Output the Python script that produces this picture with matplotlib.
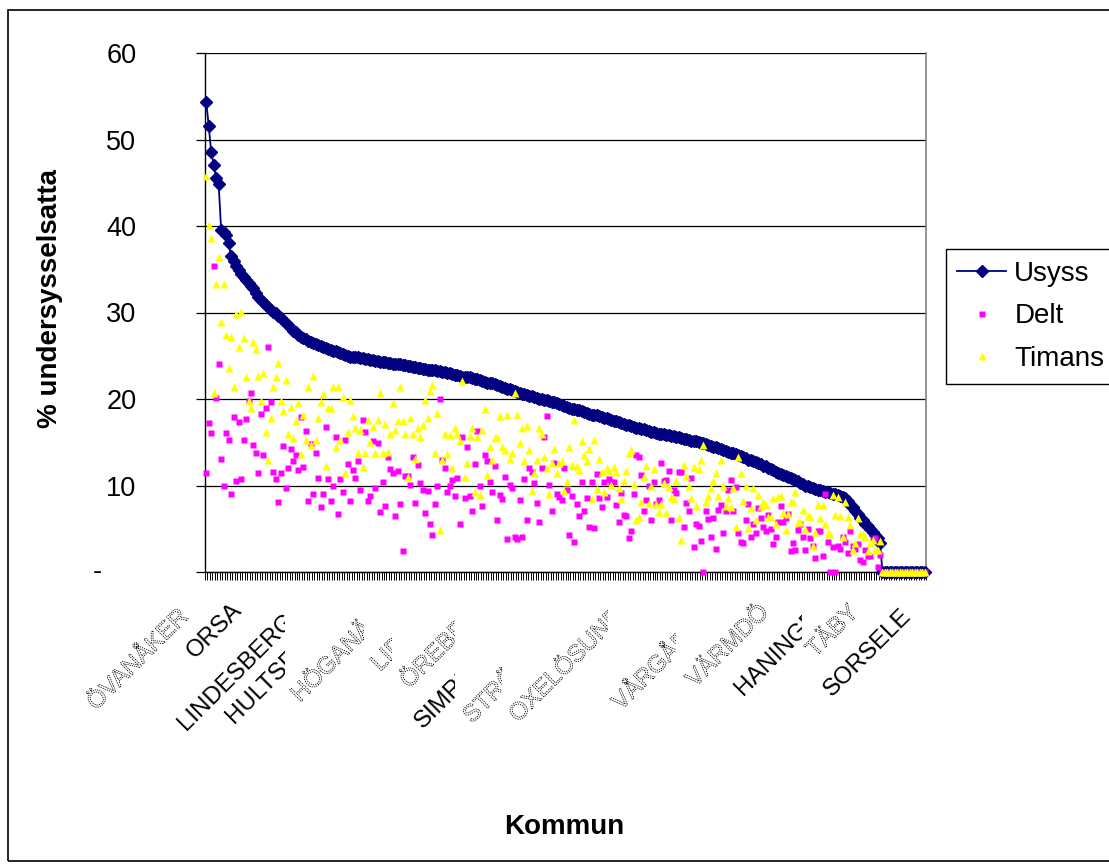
import numpy as np
import matplotlib
matplotlib.use("Agg")
import matplotlib.pyplot as plt
import matplotlib.patheffects as pe
from matplotlib.transforms import Bbox
from matplotlib.patches import Rectangle

plt.rcParams['font.family'] = ['Liberation Sans', 'DejaVu Sans']

# ---------------- data ----------------
usyss = [
    54.3, 51.6, 48.5, 47.1, 45.5, 44.8, 39.5, 39.3, 39.0, 38.0, 36.5,
    36.0, 35.4, 34.9, 34.4, 34.1, 33.7, 33.4, 33.1, 32.8, 32.3, 31.8, 31.5, 31.2, 30.9, 30.6, 30.3,
    30.1, 29.9, 29.6, 29.4, 29.1, 28.8, 28.5, 28.2, 27.9, 27.7, 27.4, 27.2,
    27.0, 26.9, 26.7, 26.6, 26.5, 26.4, 26.3, 26.1, 26.0,
    25.9, 25.8, 25.7, 25.6, 25.5, 25.4, 25.3, 25.2, 25.1, 25.0, 24.9,
    24.9, 24.8, 24.8, 24.7, 24.7, 24.6, 24.6, 24.5, 24.5, 24.4, 24.4, 24.3, 24.3, 24.3, 24.2, 24.2, 24.1, 24.1, 24.0, 24.0,
    23.9, 23.9, 23.8, 23.8, 23.7, 23.7, 23.6, 23.6, 23.5, 23.5, 23.4, 23.4, 23.3, 23.3, 23.2, 23.2, 23.1, 23.1, 23.0, 23.0,
    22.9, 22.8, 22.8, 22.7, 22.6, 22.6, 22.5, 22.5, 22.4, 22.3, 22.3, 22.2,
    22.1, 22.0, 21.9, 21.9, 21.8, 21.7, 21.6, 21.5,
    21.4, 21.3, 21.2, 21.1, 21.0, 20.9, 20.8, 20.7, 20.6, 20.6, 20.5, 20.4, 20.3, 20.2, 20.1, 20.0, 20.0, 19.9, 19.9, 19.8,
    19.7, 19.6, 19.5, 19.4, 19.3, 19.2, 19.1, 19.0, 18.9, 18.8, 18.7, 18.7, 18.6, 18.5, 18.4, 18.3, 18.2, 18.2, 18.1, 18.0,
    17.9, 17.8, 17.8, 17.7, 17.6, 17.5, 17.4, 17.3, 17.2, 17.1, 17.0, 17.0, 16.9, 16.8, 16.7, 16.6, 16.5, 16.5, 16.4, 16.3,
    16.2, 16.2, 16.1, 16.0, 16.0, 15.9, 15.8, 15.8, 15.7, 15.7, 15.6, 15.6, 15.5, 15.4, 15.4, 15.3, 15.2, 15.2, 15.1, 15.0,
    14.9, 14.9, 14.8, 14.7, 14.6, 14.5, 14.4, 14.3, 14.2, 14.1, 14.0, 13.9, 13.8, 13.7, 13.6, 13.5, 13.4, 13.3, 13.2, 13.0,
    12.9, 12.8, 12.7, 12.6, 12.5, 12.3, 12.2, 12.0, 11.9, 11.8, 11.6, 11.5, 11.3, 11.2, 11.1, 11.0, 10.9, 10.8, 10.6, 10.5,
    10.3, 10.2, 10.0, 9.9, 9.8, 9.7, 9.6, 9.5, 9.5,
    9.4, 9.3, 9.2, 9.1, 9.0, 9.0, 8.9, 8.8,
    8.7, 8.5, 8.2, 7.8, 7.5, 7.1, 6.7, 6.3, 6.0, 5.6, 5.3, 5.0, 4.6, 4.3, 3.9, 3.4,
    0.0, 0.0, 0.0, 0.0, 0.0, 0.0, 0.0, 0.0, 0.0, 0.0, 0.0, 0.0, 0.0, 0.0, 0.0, 0.0, 0.0, 0.0,
]

delt = [
    11.4, 17.2, 16.1, 35.4, 20.1, 24.1, 13.1, 9.9, 16.1, 15.3,
    9.0, 17.9, 10.5, 17.3, 10.7, 15.3, 17.7, 19.8, 20.7, 14.7,
    13.7, 11.4, 18.3, 13.5, 19.0, 26.0, 19.6, 11.6, 10.8, 8.1,
    11.4, 14.6, 9.7, 12.0, 14.2, 12.8, 13.5, 11.8, 17.9, 12.1,
    16.3, 8.2, 14.8, 9.0, 13.8, 10.9, 7.5, 9.0, 16.8, 10.7,
    8.2, 9.9, 15.6, 6.7, 10.7, 9.3, 15.3, 12.5, 8.2, 11.8,
    10.9, 12.8, 9.5, 17.6, 16.2, 8.2, 8.8, 15.1, 9.7, 14.9,
    6.9, 10.4, 7.6, 13.3, 11.9, 11.4, 6.5, 11.7, 7.9, 2.4,
    11.1, 11.1, 10.1, 13.3, 8.0, 12.4, 10.3, 9.5, 6.8, 9.4,
    5.5, 4.3, 7.9, 10.0, 20.0, 13.0, 12.0, 9.3, 9.9, 10.6,
    8.8, 10.9, 5.5, 15.6, 8.5, 14.4, 8.8, 7.1, 12.5, 16.3,
    10.0, 7.6, 13.5, 12.8, 10.4, 9.2, 12.3, 6.0, 8.9, 8.4,
    11.0, 3.8, 10.1, 9.7, 4.0, 3.8, 8.3, 4.1, 10.7, 6.0,
    12.0, 11.6, 10.3, 8.0, 5.8, 12.0, 15.6, 18.0, 10.1, 7.0,
    12.6, 9.0, 8.7, 8.3, 12.0, 9.5, 4.3, 8.8, 3.5, 7.9,
    6.5, 10.4, 7.1, 8.6, 5.2, 10.4, 5.1, 11.3, 8.5, 7.5,
    10.4, 8.7, 10.8, 10.4, 10.4, 7.8, 5.8, 9.1, 6.6, 6.5,
    3.9, 4.7, 9.0, 13.5, 13.3, 11.2, 7.1, 8.3, 10.0, 6.0,
    10.4, 7.9, 8.3, 12.6, 10.5, 10.6, 11.7, 6.0, 9.5, 9.1,
    11.6, 11.6, 5.2, 8.0, 7.1, 10.9, 2.9, 5.5, 5.3, 3.6,
    0.0, 7.0, 6.1, 4.0, 6.3, 2.7, 7.2, 7.7, 4.5, 7.1,
    9.5, 10.6, 7.1, 9.8, 4.5, 3.5, 3.3, 6.0, 7.9, 4.0,
    5.5, 4.5, 7.4, 6.3, 5.2, 4.7, 6.6, 5.0, 3.2, 4.0,
    5.8, 7.6, 5.8, 6.2, 6.7, 2.4, 3.4, 2.5, 4.9, 5.5,
    4.0, 2.5, 5.0, 3.9, 3.0, 1.6, 4.7, 4.7, 1.9, 9.0,
    3.5, 0.0, 2.9, 0.0, 3.0, 2.7, 4.1, 3.5, 2.2, 4.7,
    3.0, 2.7, 3.2, 1.4, 1.2, 2.5, 1.8, 1.8, 3.7, 3.9,
    0.6, 2.0,
    0.0, 0.0, 0.0, 0.0, 0.0, 0.0, 0.0, 0.0, 0.0, 0.0, 0.0, 0.0, 0.0, 0.0, 0.0, 0.0, 0.0, 0.0,
]

timans = [
    45.8, 40.1, 38.6, 20.7, 33.3, 36.4, 28.9, 33.3, 27.4, 23.6,
    27.2, 21.4, 29.8, 26.0, 30.1, 27.0, 22.5, 19.8, 19.0, 26.6,
    25.8, 22.7, 19.8, 23.0, 16.2, 12.9, 17.8, 21.4, 22.5, 24.2,
    19.8, 18.6, 22.2, 16.0, 19.1, 15.5, 17.4, 19.5, 13.6, 18.1,
    15.3, 21.4, 14.7, 22.7, 15.3, 17.8, 19.6, 20.6, 12.3, 19.0,
    19.0, 21.4, 14.4, 21.4, 15.3, 20.2, 11.5, 16.2, 19.9, 18.0,
    16.6, 13.8, 16.4, 12.1, 13.8, 17.6, 15.0, 16.8, 13.8, 17.6,
    20.7, 13.8, 17.1, 13.9, 16.0, 19.5, 16.4, 17.5, 21.4, 17.5,
    16.0, 11.0, 17.8, 16.0, 13.1, 16.7, 15.6, 17.0, 19.9, 17.8,
    20.9, 21.6, 13.8, 18.4, 4.9, 13.0, 16.0, 13.6, 15.8, 12.0,
    16.6, 16.0, 15.1, 22.1, 11.0, 12.6, 15.7, 16.7, 9.3, 15.6,
    8.9, 16.4, 18.8, 11.2, 14.5, 13.0, 15.5, 15.6, 18.0, 14.5,
    14.1, 18.2, 13.1, 13.7, 20.7, 18.2, 14.9, 16.7, 12.8, 16.9,
    14.1, 9.4, 11.4, 12.9, 16.7, 16.0, 13.3, 12.0, 9.0, 12.6,
    14.2, 11.5, 12.6, 12.8, 9.4, 10.4, 14.5, 12.4, 17.6, 12.2,
    11.8, 15.1, 13.5, 12.8, 14.2, 8.4, 15.3, 9.6, 13.1, 11.6,
    9.3, 12.0, 11.7, 10.1, 12.1, 11.6, 9.7, 8.4, 10.5, 11.7,
    13.8, 14.1, 10.2, 6.0, 6.4, 8.1, 11.0, 12.3, 8.0, 10.0,
    11.9, 7.9, 6.9, 7.9, 10.3, 6.8, 9.8, 8.7, 8.4, 10.5,
    6.2, 3.7, 12.4, 11.1, 9.9, 8.5, 12.1, 7.6, 11.9, 12.9,
    14.7, 8.1, 8.8, 9.7, 10.5, 11.4, 8.8, 12.9, 9.9, 7.6,
    8.5, 7.5, 9.7, 5.2, 13.3, 11.5, 8.2, 9.9, 5.1, 7.4,
    9.7, 6.0, 8.9, 7.6, 8.1, 7.7, 6.4, 6.4, 8.6, 5.5,
    8.7, 8.8, 6.8, 4.8, 6.7, 8.1, 8.1, 9.3, 5.8, 5.8,
    7.2, 5.0, 6.5, 6.4, 3.0, 4.6, 7.7, 6.2, 7.7, 5.6,
    4.5, 4.4, 8.9, 6.6, 8.7, 6.5, 4.1, 8.1, 6.4, 5.4,
    2.5, 3.4, 6.2, 4.4, 4.4, 4.1, 2.4, 3.3, 3.7, 2.6,
    2.6, 3.6,
    0.0, 0.0, 0.0, 0.0, 0.0, 0.0, 0.0, 0.0, 0.0, 0.0, 0.0, 0.0, 0.0, 0.0, 0.0, 0.0, 0.0, 0.0,
]

series_names = ["Usyss", "Delt", "Timans"]
x_labels = ["ÖVANÅKER", "ORSA", "LINDESBERG", "HULTSFRED", "HÖGANÄS", "LIDKÖPING",
            "ÖREBRO", "SIMRISHAMN", "STRÖMSUND", "OXELÖSUND", "VÅRGÅRDA", "VÄRMDÖ",
            "HANINGE", "TÄBY", "SORSELE"]
y_ticks = [0, 10, 20, 30, 40, 50, 60]
y_tick_labels = ["", "10", "20", "30", "40", "50", "60"]
y_title = "% undersysselsatta"
x_title = "Kommun"

# ---------------- layout ----------------
W, H = 1109, 864
fig = plt.figure(figsize=(W / 100, H / 100), dpi=100)
fig.patch.set_facecolor("white")

L, R, T, B = 205, 926, 53, 572
ax = fig.add_axes([L / W, 1 - B / H, (R - L) / W, (B - T) / H])

n = len(usyss)
x = np.arange(n)
navy, mag, yel = "#000080", "#FF00FF", "#FFFF00"

l1, = ax.plot(x, usyss, color=navy, lw=1.3, marker="D", ms=6.6, mfc=navy, mec=navy,
              mew=1.0, clip_on=False, zorder=3, label=series_names[0])
l2, = ax.plot(x, delt, ls="none", marker="s", ms=4.8, mfc=mag, mec="none",
              clip_on=False, zorder=4, label=series_names[1])
l3, = ax.plot(x, timans, ls="none", marker="^", ms=6.2, mfc=yel, mec="none",
              clip_on=False, zorder=5, label=series_names[2])

ax.set_xlim(-0.5, n - 0.5)
ax.set_ylim(0, 60)
ax.set_yticks(y_ticks)
ax.set_yticklabels(y_tick_labels)
ax.set_xticks(np.arange(n + 1) - 0.5)
ax.set_xticklabels([])
ax.yaxis.grid(True, color="black", lw=0.9)
ax.set_axisbelow(True)
ax.tick_params(axis="x", length=5.5, width=0.7, direction="out", color="black")
ax.tick_params(axis="y", length=6.5, width=0.9, direction="out", color="black",
               labelsize=19.5, pad=43)
for s in ("left", "bottom"):
    ax.spines[s].set_color("black")
    ax.spines[s].set_linewidth(1.0)
ax.spines["top"].set_visible(False)
ax.spines["right"].set_color("#808080")
ax.spines["right"].set_linewidth(1.2)

# zero label shown as "-"
ax.annotate("-", xy=(0, 0), xycoords=("axes fraction", "data"), xytext=(-103, 0),
            textcoords="offset pixels", ha="right", va="center", fontsize=19.5,
            annotation_clip=False)

# category labels (as rendered by the original, partly clipped)
w_cat = (R - L) / n
label_starts = [(96, 711), (195, 659), (186, 731), (234, 724), (300, 703), (380, 672),
                (409, 689), (423, 729), (472, 724), (518, 723), (621, 711), (695, 688),
                (743, 696), (815, 658), (832, 697)]
label_clip = [None, None, 285, 285, 364, 392, 455, 455, 502, 608, 676, None, 802, None, None]
label_outline = [True, False, False, False, True, True, True, False, True, True, True, True,
                 False, True, False]
for txt, (sx, sy), cx, outl in zip(x_labels, label_starts, label_clip, label_outline):
    cat = (sx - L) / w_cat - 0.5
    t = ax.annotate(txt, xy=(cat, 0), xycoords=("data", "axes fraction"),
                    xytext=(0, -(sy - B)), textcoords="offset pixels",
                    rotation=45, rotation_mode="anchor", ha="left", va="baseline",
                    fontsize=17.3, annotation_clip=False)
    if outl:
        t.set_path_effects([pe.PathPatchEffect(facecolor="none", edgecolor="black",
                                               linewidth=0.6, linestyle=(0, (1.5, 1.2)))])
    if cx is not None:
        t.set_clip_on(True)
        t.set_clip_box(Bbox.from_extents(0, 0, cx, H))

# axis titles
fig.text(50 / W, 1 - 299 / H, y_title, rotation=90, ha="center", va="center",
         fontsize=20, fontweight="bold")
fig.text(564 / W, 1 - 827 / H, x_title, ha="center", va="center",
         fontsize=20, fontweight="bold")

# legend
leg = fig.legend([l1, l2, l3], series_names, loc="upper left",
                 bbox_to_anchor=(945.7 / W, 1 - 249 / H), bbox_transform=fig.transFigure,
                 frameon=True, fancybox=False, edgecolor="black", framealpha=1,
                 fontsize=20, borderpad=0.42, labelspacing=0.6, handlelength=1.75,
                 handletextpad=0.3, borderaxespad=0, numpoints=1)
leg.get_frame().set_linewidth(1.0)

# outer chart border
fig.patches.append(Rectangle((8 / W, 1 - 861 / H), (1120 - 8) / W, (861 - 10) / H,
                             transform=fig.transFigure, fill=False, edgecolor="black",
                             linewidth=1.2))

fig.savefig("out.png", dpi=100, facecolor="white")
